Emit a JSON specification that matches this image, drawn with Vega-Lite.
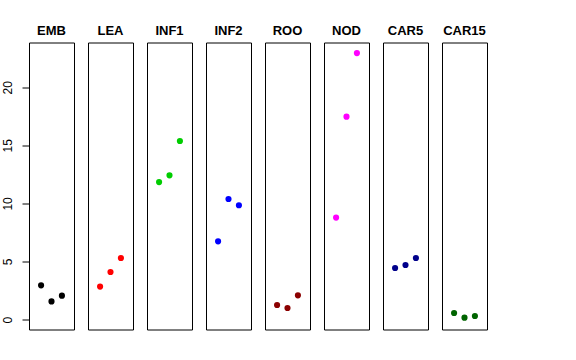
{
  "$schema": "https://vega.github.io/schema/vega-lite/v6.json",
  "padding": {"left": 1, "top": 24.5, "right": 5, "bottom": 5},
  "background": "white",
  "bounds": "flush",
  "data": {"values": [
    {"panel": "EMB", "idx": 1, "value": 2.95},
    {"panel": "EMB", "idx": 2, "value": 1.57},
    {"panel": "EMB", "idx": 3, "value": 2.06},
    {"panel": "LEA", "idx": 1, "value": 2.84},
    {"panel": "LEA", "idx": 2, "value": 4.10},
    {"panel": "LEA", "idx": 3, "value": 5.30},
    {"panel": "INF1", "idx": 1, "value": 11.84},
    {"panel": "INF1", "idx": 2, "value": 12.42},
    {"panel": "INF1", "idx": 3, "value": 15.37},
    {"panel": "INF2", "idx": 1, "value": 6.74},
    {"panel": "INF2", "idx": 2, "value": 10.38},
    {"panel": "INF2", "idx": 3, "value": 9.84},
    {"panel": "ROO", "idx": 1, "value": 1.26},
    {"panel": "ROO", "idx": 2, "value": 1.0},
    {"panel": "ROO", "idx": 3, "value": 2.09},
    {"panel": "NOD", "idx": 1, "value": 8.78},
    {"panel": "NOD", "idx": 2, "value": 17.47},
    {"panel": "NOD", "idx": 3, "value": 22.94},
    {"panel": "CAR5", "idx": 1, "value": 4.44},
    {"panel": "CAR5", "idx": 2, "value": 4.70},
    {"panel": "CAR5", "idx": 3, "value": 5.30},
    {"panel": "CAR15", "idx": 1, "value": 0.57},
    {"panel": "CAR15", "idx": 2, "value": 0.17},
    {"panel": "CAR15", "idx": 3, "value": 0.31}
  ]},
  "facet": {
    "column": {
      "field": "panel",
      "type": "nominal",
      "sort": ["EMB", "LEA", "INF1", "INF2", "ROO", "NOD", "CAR5", "CAR15"],
      "header": {
        "title": null,
        "labelFont": "Liberation Sans",
        "labelFontWeight": "bold",
        "labelFontSize": 13,
        "labelColor": "black",
        "labelPadding": 5
      }
    }
  },
  "spacing": 14,
  "spec": {
    "width": 45,
    "height": 287,
    "mark": {"type": "point", "filled": true, "opacity": 1, "size": 38, "strokeWidth": 0},
    "encoding": {
      "x": {"field": "idx", "type": "quantitative", "scale": {"domain": [-0.16, 4.16], "nice": false, "zero": false}, "axis": null},
      "y": {
        "field": "value", "type": "quantitative",
        "scale": {"domain": [-0.85, 23.85], "nice": false, "zero": false},
        "axis": {"title": null, "domain": false, "grid": false, "values": [0, 5, 10, 15, 20], "tickSize": 7, "tickColor": "black", "labelAngle": -90, "labelFont": "Liberation Sans", "labelFontSize": 12, "labelColor": "black", "labelPadding": 8, "offset": 0}
      },
      "color": {
        "field": "panel", "type": "nominal",
        "scale": {"domain": ["EMB", "LEA", "INF1", "INF2", "ROO", "NOD", "CAR5", "CAR15"], "range": ["#000000", "#FF0000", "#00CD00", "#0000FF", "#8B0000", "#FF00FF", "#00008B", "#006400"]},
        "legend": null
      }
    }
  },
  "config": {
    "view": {"stroke": "black", "strokeWidth": 1},
    "axis": {"tickWidth": 1}
  }
}
